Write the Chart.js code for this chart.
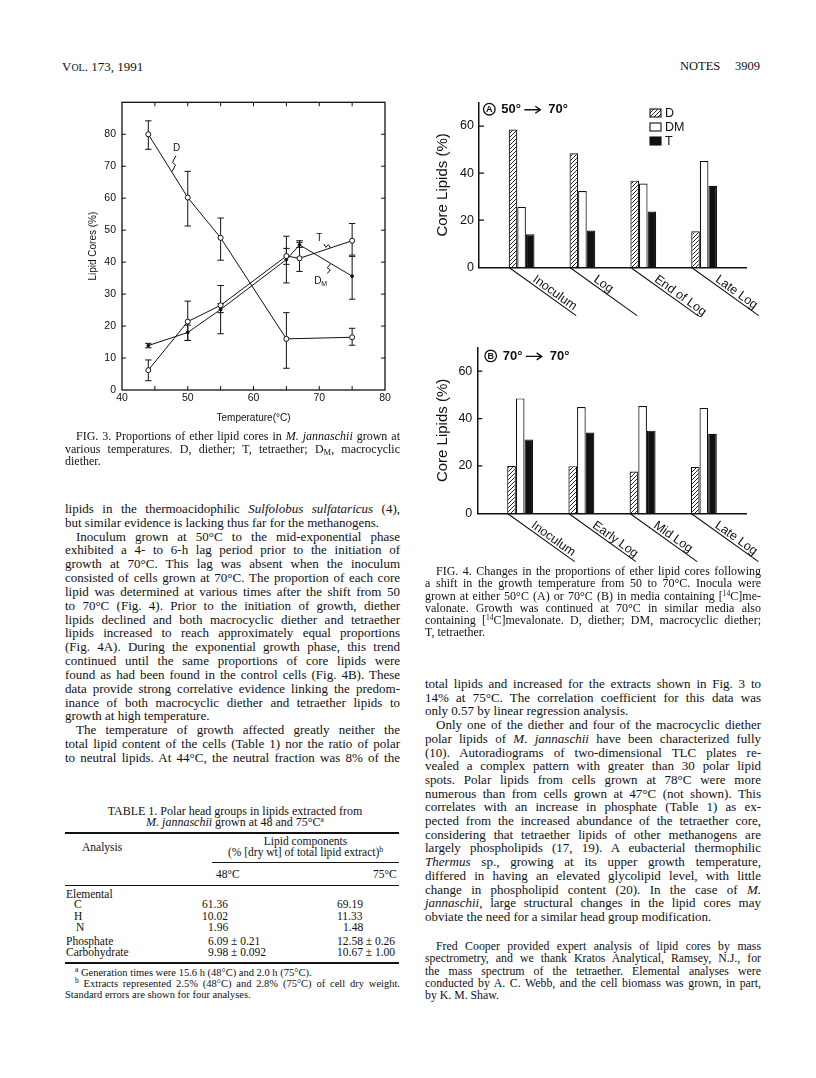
<!DOCTYPE html>
<html>
<head>
<meta charset="utf-8">
<script src="https://cdn.jsdelivr.net/npm/chart.js@4.4.1/dist/chart.umd.min.js"></script>
<style>
html,body{margin:0;padding:0;background:#fff;}
body{width:816px;height:1078px;position:relative;overflow:hidden;font-family:"Liberation Serif","Times New Roman",serif;color:#111;}
.a{position:absolute;white-space:nowrap;}
.col{position:absolute;width:335px;}
.ln{white-space:nowrap;overflow:visible;}
.ind{text-indent:11px;}
.b13{font-size:13px;line-height:13.83px;}
.s12{font-size:12px;line-height:12.3px;}
.sub{font-size:8.5px;line-height:0;vertical-align:-2px;}
.sup{font-size:7.5px;line-height:0;vertical-align:4px;}
canvas{position:absolute;}
.rule{position:absolute;background:#111;}
.t11{position:absolute;font-size:11.5px;line-height:13px;white-space:nowrap;}
</style>
</head>
<body>
<script>
// ================= DATA =================
// Fig. 3 : proportions of ether lipid cores vs growth temperature
const fig3Temps   = [44, 50, 55, 65, 67, 75];          // T and DM series
const fig3DTemps  = [44, 50, 55, 65, 75];              // D series
const fig3D       = [80.0, 60.2, 47.6, 16.0, 16.5];
const fig3DLow    = [75.3, 51.3, 40.6, 6.8, 14.0];
const fig3DHigh   = [84.2, 68.4, 53.8, 24.2, 19.3];
const fig3T       = [6.2, 21.4, 26.5, 41.9, 41.2, 46.7];
const fig3TLow    = [2.9, 15.5, 17.6, 33.5, 37.1, 42.2];
const fig3THigh   = [9.4, 27.8, 32.7, 48.1, 46.7, 52.1];
const fig3DM      = [13.9, 18.0, 25.2, 40.8, 45.4, 35.6];
const fig3DMLow   = [13.2, 15.5, 24.2, 39.3, 44.6, 28.4];
const fig3DMHigh  = [14.6, 20.3, 27.0, 44.3, 46.2, 41.8];
const fig3XTicks  = [40, 50, 60, 70, 80];
const fig3XMinor  = [45, 50, 55, 60, 65, 70, 75];
const fig3YTicks  = [0, 10, 20, 30, 40, 50, 60, 70, 80];

// Fig. 4 : core lipids after temperature shift
const fig4Series      = ['D', 'DM', 'T'];
const fig4aCategories = ['Inoculum', 'Log', 'End of Log', 'Late Log'];
const fig4aD          = [58.5, 48.4, 36.8, 15.3];
const fig4aDM         = [25.7, 32.4, 35.6, 45.2];
const fig4aT          = [14.0, 15.6, 23.7, 34.6];
const fig4bCategories = ['Inoculum', 'Early Log', 'Mid Log', 'Late Log'];
const fig4bD          = [20.0, 19.9, 17.6, 19.6];
const fig4bDM         = [48.5, 44.9, 45.3, 44.5];
const fig4bT          = [31.2, 34.1, 34.9, 33.6];
const fig4YTicks      = [0, 20, 40, 60];
</script>

<!-- header -->
<div class="a" style="left:62px;top:59px;font-size:13px;line-height:15px;">V<span style="font-size:10px">OL</span>. 173, 1991</div>
<div class="a" style="left:680px;top:59px;font-size:12.5px;line-height:15px;">NOTES</div>
<div class="a" style="left:735px;top:59px;font-size:12.5px;line-height:15px;">3909</div>

<canvas id="fig3" width="340" height="340" style="left:60px;top:90px;"></canvas>
<canvas id="fig4a" width="335" height="232" style="left:425px;top:90px;"></canvas>
<canvas id="fig4b" width="335" height="232" style="left:425px;top:335px;"></canvas>

<!-- Fig 3 caption -->
<div class="col s12" style="left:65px;top:430px;line-height:12.7px;">
<div class="ln ind">FIG. 3. Proportions of ether lipid cores in <i>M. jannaschii</i> grown at</div>
<div class="ln">various temperatures. D, diether; T, tetraether; D<span class="sub">M</span>, macrocyclic</div>
<div class="ln last">diether.</div>
</div>

<!-- left body -->
<div class="col b13" style="left:65px;top:502px;">
<div class="ln">lipids in the thermoacidophilic <i>Sulfolobus sulfataricus</i> (4),</div>
<div class="ln last">but similar evidence is lacking thus far for the methanogens.</div>
<div class="ln ind">Inoculum grown at 50°C to the mid-exponential phase</div>
<div class="ln">exhibited a 4- to 6-h lag period prior to the initiation of</div>
<div class="ln">growth at 70°C. This lag was absent when the inoculum</div>
<div class="ln">consisted of cells grown at 70°C. The proportion of each core</div>
<div class="ln">lipid was determined at various times after the shift from 50</div>
<div class="ln">to 70°C (Fig. 4). Prior to the initiation of growth, diether</div>
<div class="ln">lipids declined and both macrocyclic diether and tetraether</div>
<div class="ln">lipids increased to reach approximately equal proportions</div>
<div class="ln">(Fig. 4A). During the exponential growth phase, this trend</div>
<div class="ln">continued until the same proportions of core lipids were</div>
<div class="ln">found as had been found in the control cells (Fig. 4B). These</div>
<div class="ln">data provide strong correlative evidence linking the predom-</div>
<div class="ln">inance of both macrocyclic diether and tetraether lipids to</div>
<div class="ln last">growth at high temperature.</div>
<div class="ln ind">The temperature of growth affected greatly neither the</div>
<div class="ln">total lipid content of the cells (Table 1) nor the ratio of polar</div>
<div class="ln">to neutral lipids. At 44°C, the neutral fraction was 8% of the</div>
</div>

<!-- Table 1 -->
<div class="a" style="left:65px;width:340px;top:806px;font-size:12px;line-height:11px;text-align:center;">TABLE 1. Polar head groups in lipids extracted from<br><i>M. jannaschii</i> grown at 48 and 75°C<span class="sup">a</span></div>
<div class="rule" style="left:65px;width:334px;top:832px;height:1.6px;"></div>
<div class="t11" style="left:82px;top:841px;">Analysis</div>
<div class="t11" style="left:212px;width:187px;top:835px;text-align:center;">Lipid components</div>
<div class="t11" style="left:212px;width:187px;top:846px;text-align:center;">(% [dry wt] of total lipid extract)<span class="sup">b</span></div>
<div class="rule" style="left:212px;width:187px;top:862px;height:1px;"></div>
<div class="t11" style="left:216px;top:868px;">48°C</div>
<div class="t11" style="left:373px;top:868px;">75°C</div>
<div class="rule" style="left:65px;width:334px;top:885px;height:1px;"></div>
<div class="t11" style="left:66px;top:888px;">Elemental</div>
<div class="t11" style="left:74px;top:898px;">C</div>
<div class="t11" style="left:74px;top:910px;">H</div>
<div class="t11" style="left:76px;top:921px;">N</div>
<div class="t11" style="left:66px;top:935px;">Phosphate</div>
<div class="t11" style="left:66px;top:946px;">Carbohydrate</div>
<div class="t11" style="left:202px;top:898px;">61.36</div>
<div class="t11" style="left:202px;top:910px;">10.02</div>
<div class="t11" style="left:208px;top:921px;">1.96</div>
<div class="t11" style="left:208px;top:935px;">6.09 ± 0.21</div>
<div class="t11" style="left:208px;top:946px;">9.98 ± 0.092</div>
<div class="t11" style="left:337px;top:898px;">69.19</div>
<div class="t11" style="left:337px;top:910px;">11.33</div>
<div class="t11" style="left:343px;top:921px;">1.48</div>
<div class="t11" style="left:337px;top:935px;">12.58 ± 0.26</div>
<div class="t11" style="left:337px;top:946px;">10.67 ± 1.00</div>
<div class="rule" style="left:65px;width:334px;top:962px;height:1.6px;"></div>
<div class="col" style="left:65px;top:967px;font-size:10.5px;line-height:11.2px;">
<div class="ln last" style="text-indent:10px;"><span class="sup">a</span> Generation times were 15.6 h (48°C) and 2.0 h (75°C).</div>
<div class="ln" style="text-indent:10px;"><span class="sup">b</span> Extracts represented 2.5% (48°C) and 2.8% (75°C) of cell dry weight.</div>
<div class="ln last">Standard errors are shown for four analyses.</div>
</div>

<!-- Fig 4 caption -->
<div class="col s12" style="left:425px;top:565px;width:336px;">
<div class="ln ind">FIG. 4. Changes in the proportions of ether lipid cores following</div>
<div class="ln">a shift in the growth temperature from 50 to 70°C. Inocula were</div>
<div class="ln">grown at either 50°C (A) or 70°C (B) in media containing [<span class="sup">14</span>C]me-</div>
<div class="ln">valonate. Growth was continued at 70°C in similar media also</div>
<div class="ln">containing [<span class="sup">14</span>C]mevalonate. D, diether; DM, macrocyclic diether;</div>
<div class="ln last">T, tetraether.</div>
</div>

<!-- right body -->
<div class="col b13" style="left:425px;top:677px;width:336px;line-height:13.7px;">
<div class="ln">total lipids and increased for the extracts shown in Fig. 3 to</div>
<div class="ln">14% at 75°C. The correlation coefficient for this data was</div>
<div class="ln last">only 0.57 by linear regression analysis.</div>
<div class="ln ind">Only one of the diether and four of the macrocyclic diether</div>
<div class="ln">polar lipids of <i>M. jannaschii</i> have been characterized fully</div>
<div class="ln">(10). Autoradiograms of two-dimensional TLC plates re-</div>
<div class="ln">vealed a complex pattern with greater than 30 polar lipid</div>
<div class="ln">spots. Polar lipids from cells grown at 78°C were more</div>
<div class="ln">numerous than from cells grown at 47°C (not shown). This</div>
<div class="ln">correlates with an increase in phosphate (Table 1) as ex-</div>
<div class="ln">pected from the increased abundance of the tetraether core,</div>
<div class="ln">considering that tetraether lipids of other methanogens are</div>
<div class="ln">largely phospholipids (17, 19). A eubacterial thermophilic</div>
<div class="ln"><i>Thermus</i> sp., growing at its upper growth temperature,</div>
<div class="ln">differed in having an elevated glycolipid level, with little</div>
<div class="ln">change in phospholipid content (20). In the case of <i>M.</i></div>
<div class="ln"><i>jannaschii</i>, large structural changes in the lipid cores may</div>
<div class="ln last">obviate the need for a similar head group modification.</div>
</div>

<!-- acknowledgments -->
<div class="col" style="left:425px;top:940px;width:336px;font-size:11.8px;line-height:12.25px;">
<div class="ln ind">Fred Cooper provided expert analysis of lipid cores by mass</div>
<div class="ln">spectrometry, and we thank Kratos Analytical, Ramsey, N.J., for</div>
<div class="ln">the mass spectrum of the tetraether. Elemental analyses were</div>
<div class="ln">conducted by A. C. Webb, and the cell biomass was grown, in part,</div>
<div class="ln last">by K. M. Shaw.</div>
</div>

<script>
// ---------- justify each printed line to the column width ----------
function fitLines(){
  document.querySelectorAll('.ln').forEach(el => {
    const indent = parseFloat(getComputedStyle(el).textIndent) || 0;
    const target = el.clientWidth - indent;
    const r = document.createRange(); r.selectNodeContents(el);
    const w = r.getBoundingClientRect().width;
    const n = (el.textContent.trim().match(/ /g) || []).length;
    if (!n) return;
    if (el.classList.contains('last') && w <= target) return;
    el.style.wordSpacing = ((target - w) / n) + 'px';
  });
}
fitLines();

const FONT = '"Liberation Sans", Arial, sans-serif';
const INK = '#111';
Chart.defaults.font.family = FONT;
Chart.defaults.color = INK;

// ================= FIG 3 =================
function lineSet(label, xs, ys, lo, hi, open){
  return {
    label, data: xs.map((x, i) => ({x, y: ys[i]})), errLow: lo, errHigh: hi,
    borderColor: INK, borderWidth: 1, tension: 0, fill: false,
    pointRadius: open ? 2.5 : 1.4, pointHoverRadius: open ? 2.5 : 1.4,
    pointBackgroundColor: open ? '#fff' : INK, pointBorderColor: INK, pointBorderWidth: 1
  };
}
const errorBars = {
  id: 'errorBars',
  beforeDatasetsDraw(chart){
    const {ctx, scales: {y}} = chart;
    ctx.save(); ctx.strokeStyle = INK; ctx.lineWidth = 1;
    chart.data.datasets.forEach((ds, i) => {
      if (!ds.errLow) return;
      chart.getDatasetMeta(i).data.forEach((pt, j) => {
        const x = pt.x, y1 = y.getPixelForValue(ds.errLow[j]), y2 = y.getPixelForValue(ds.errHigh[j]);
        ctx.beginPath();
        ctx.moveTo(x, y1); ctx.lineTo(x, y2);
        ctx.moveTo(x - 3.2, y1); ctx.lineTo(x + 3.2, y1);
        ctx.moveTo(x - 3.2, y2); ctx.lineTo(x + 3.2, y2);
        ctx.stroke();
      });
    });
    ctx.restore();
  }
};
function squiggle(ctx, x1, y1, x2, y2){
  const dx = x2 - x1, dy = y2 - y1, L = Math.hypot(dx, dy), nx = -dy / L, ny = dx / L;
  ctx.beginPath(); ctx.moveTo(x1, y1);
  ctx.lineTo(x1 + dx * 0.45 + nx * 1.8, y1 + dy * 0.45 + ny * 1.8);
  ctx.lineTo(x1 + dx * 0.55 - nx * 1.8, y1 + dy * 0.55 - ny * 1.8);
  ctx.lineTo(x2, y2); ctx.stroke();
}
const fig3Frame = {
  id: 'fig3Frame',
  afterDraw(chart){
    const {ctx, chartArea: a, scales: {x, y}} = chart;
    ctx.save(); ctx.strokeStyle = INK; ctx.fillStyle = INK;
    ctx.lineWidth = 1.3;
    ctx.strokeRect(a.left, a.top, a.right - a.left, a.bottom - a.top);
    ctx.lineWidth = 1; ctx.beginPath();
    fig3XMinor.forEach(v => { const p = x.getPixelForValue(v);
      ctx.moveTo(p, a.bottom); ctx.lineTo(p, a.bottom - 4); ctx.moveTo(p, a.top); ctx.lineTo(p, a.top + 4); });
    fig3YTicks.slice(1).forEach(v => { const p = y.getPixelForValue(v);
      ctx.moveTo(a.left, p); ctx.lineTo(a.left + 4, p); ctx.moveTo(a.right, p); ctx.lineTo(a.right - 4, p); });
    ctx.stroke();
    const P = (vx, vy) => [x.getPixelForValue(vx), y.getPixelForValue(vy)];
    ctx.font = '10px ' + FONT; ctx.textAlign = 'center'; ctx.textBaseline = 'middle';
    let p = P(48.3, 75.6); ctx.fillText(fig4Series[0], p[0], p[1]);
    squiggle(ctx, ...P(48.2, 73.3), ...P(47.6, 68.3));
    p = P(70.0, 47.6); ctx.fillText(fig4Series[2], p[0], p[1]);
    squiggle(ctx, ...P(70.7, 45.7), ...P(71.7, 44.4));
    p = P(70.0, 34.0); ctx.fillText('D', p[0] - 1.5, p[1]);
    ctx.font = '7px ' + FONT; ctx.fillText('M', p[0] + 5, p[1] + 3);
    squiggle(ctx, ...P(71.2, 36.4), ...P(71.7, 39.4));
    ctx.restore();
  }
};
new Chart(document.getElementById('fig3'), {
  type: 'line',
  data: { datasets: [
    lineSet('D', fig3DTemps, fig3D, fig3DLow, fig3DHigh, true),
    lineSet('T', fig3Temps, fig3T, fig3TLow, fig3THigh, true),
    lineSet('DM', fig3Temps, fig3DM, fig3DMLow, fig3DMHigh, false)
  ]},
  options: {
    responsive: false, animation: false, devicePixelRatio: 1,
    layout: { padding: { top: 8, right: 15, left: 0, bottom: 0 } },
    plugins: { legend: { display: false }, tooltip: { enabled: false } },
    scales: {
      x: { type: 'linear', min: 40, max: 80,
        afterBuildTicks: s => { s.ticks = fig3XTicks.map(v => ({value: v})); },
        ticks: { font: { size: 10.5 }, color: INK, padding: 2, maxRotation: 0, autoSkip: false },
        grid: { display: false, drawTicks: false }, border: { display: false },
        title: { display: true, text: 'Temperature(°C)', font: { size: 10 }, color: INK, padding: { top: 0, bottom: 5.5 } },
        afterFit: s => { s.height = 40; } },
      y: { min: 0, max: 90,
        afterBuildTicks: s => { s.ticks = fig3YTicks.map(v => ({value: v})); },
        ticks: { font: { size: 10.5 }, color: INK, padding: 6, autoSkip: false },
        grid: { display: false, drawTicks: false }, border: { display: false },
        title: { display: true, text: 'Lipid Cores (%)', font: { size: 10 }, color: INK, padding: { top: 27, bottom: 0 } },
        afterFit: s => { s.width = 62; } }
    }
  },
  plugins: [errorBars, fig3Frame]
});

// ================= FIG 4 =================
function makeHatch(){
  const c = document.createElement('canvas'); c.width = 4; c.height = 4;
  const g = c.getContext('2d');
  g.fillStyle = '#fff'; g.fillRect(0, 0, 4, 4);
  g.strokeStyle = INK; g.lineWidth = 0.9;
  g.beginPath(); g.moveTo(0, 4); g.lineTo(4, 0); g.moveTo(-1, 1); g.lineTo(1, -1); g.moveTo(3, 5); g.lineTo(5, 3); g.stroke();
  return g.createPattern(c, 'repeat');
}
const fig4Deco = {
  id: 'fig4Deco',
  afterDraw(chart, args, opts){
    const {ctx, chartArea: a, scales: {y}} = chart;
    ctx.save(); ctx.strokeStyle = INK; ctx.fillStyle = INK; ctx.lineWidth = 1.2;
    // inner y ticks
    ctx.beginPath();
    fig4YTicks.slice(1).forEach(v => { const p = y.getPixelForValue(v); ctx.moveTo(a.left, p); ctx.lineTo(a.left + 5, p); });
    ctx.stroke();
    // slanted category labels
    const ang = 35.6 * Math.PI / 180;
    const meta = chart.getDatasetMeta(0);
    ctx.font = '12.5px ' + FONT; ctx.textAlign = 'left'; ctx.textBaseline = 'alphabetic';
    opts.categories.forEach((c, i) => {
      const bar = meta.data[i];
      const x0 = bar.x - bar.width / 2, y0 = bar.base;
      ctx.save(); ctx.translate(x0, y0); ctx.rotate(ang);
      ctx.lineWidth = 1.1;
      ctx.beginPath(); ctx.moveTo(0, 0); ctx.lineTo(83, 0); ctx.stroke();
      ctx.fillText(c, 27, -2.5);
      ctx.restore();
    });
    // panel title
    const cx = a.left + opts.titleDx, cy = a.top + opts.titleDy;
    ctx.lineWidth = 1.3;
    ctx.beginPath(); ctx.arc(cx, cy, 5.8, 0, Math.PI * 2); ctx.stroke();
    ctx.font = 'bold 9px ' + FONT; ctx.textAlign = 'center'; ctx.textBaseline = 'middle';
    ctx.fillText(opts.panel, cx, cy + 0.5);
    ctx.font = 'bold 13px ' + FONT; ctx.textAlign = 'left';
    ctx.fillText(opts.from, cx + 12, cy + 0.5);
    // arrow
    ctx.lineWidth = 1.4;
    ctx.beginPath(); ctx.moveTo(cx + 35, cy + 0.5); ctx.lineTo(cx + 51, cy + 0.5);
    ctx.moveTo(cx + 46, cy - 3); ctx.lineTo(cx + 51, cy + 0.5); ctx.lineTo(cx + 46, cy + 4); ctx.stroke();
    ctx.fillText(opts.to, cx + 59, cy + 0.5);
    // legend
    if (opts.legend) {
      const lx = a.left + 171;
      chart.data.datasets.forEach((ds, k) => {
        const ly = a.top + 6.5 + k * 14;
        ctx.fillStyle = ds.backgroundColor; ctx.fillRect(lx, ly, 11, 8);
        ctx.lineWidth = 1.1; ctx.strokeRect(lx, ly, 11, 8);
        ctx.fillStyle = INK; ctx.font = '12.5px ' + FONT; ctx.textBaseline = 'middle';
        ctx.fillText(ds.label, lx + 15, ly + 4.5);
      });
    }
    ctx.restore();
  }
};
function fig4Chart(id, cats, d, dm, t, deco, yWidth, xHeight, padTop){
  const hatch = makeHatch();
  const vals = [d, dm, t];
  const fills = [hatch, '#fff', INK];
  return new Chart(document.getElementById(id), {
    type: 'bar',
    data: { datasets: fig4Series.map((name, k) => ({
      label: name,
      data: cats.map((c, i) => ({x: i + 1, y: vals[k][i]})),
      backgroundColor: fills[k], borderColor: INK, borderWidth: 1.2, borderSkipped: 'bottom',
      categoryPercentage: 0.605, barPercentage: 1
    }))},
    options: {
      responsive: false, animation: false, devicePixelRatio: 1,
      layout: { padding: { top: padTop, right: 13.3, left: 0, bottom: 0 } },
      plugins: { legend: { display: false }, tooltip: { enabled: false }, fig4Deco: Object.assign({categories: cats}, deco) },
      scales: {
        x: { type: 'linear', min: 0.3, max: 4.7, offset: false,
          ticks: { display: false }, grid: { display: false, drawTicks: false },
          border: { display: true, color: INK, width: 1.5 },
          afterFit: s => { s.height = xHeight; } },
        y: { min: 0, max: 70,
          afterBuildTicks: s => { s.ticks = fig4YTicks.map(v => ({value: v})); },
          ticks: { font: { size: 12.5 }, color: INK, padding: 5, autoSkip: false },
          grid: { display: false, drawTicks: false },
          border: { display: true, color: INK, width: 1.5 },
          title: { display: true, text: 'Core Lipids (%)', font: { size: 15 }, color: INK, padding: { top: 9, bottom: 0 } },
          afterFit: s => { s.width = yWidth; } }
      }
    },
    plugins: [fig4Deco]
  });
}
fig4Chart('fig4a', fig4aCategories, fig4aD, fig4aDM, fig4aT,
  { panel: 'A', from: '50°', to: '70°', legend: true, titleDx: 10.3, titleDy: 6.7 }, 54, 54.7, 9.3);
fig4Chart('fig4b', fig4bCategories, fig4bD, fig4bDM, fig4bT,
  { panel: 'B', from: '70°', to: '70°', legend: false, titleDx: 13.4, titleDy: 8.4 }, 52.3, 53.7, 8.3);
</script>
</body>
</html>
